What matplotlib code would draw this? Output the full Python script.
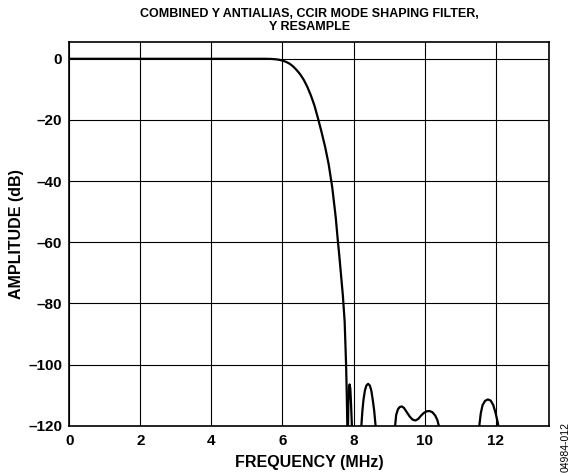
import numpy as np
import matplotlib
matplotlib.use('Agg')
import matplotlib.pyplot as plt

plt.rcParams['font.family'] = ['Liberation Sans', 'DejaVu Sans']
plt.rcParams['font.weight'] = 'bold'

# main roll-off (MHz, dB)
main_f = [0.0, 5.0, 5.5, 5.7, 5.8, 5.9, 6.0, 6.1, 6.2, 6.3, 6.4, 6.5, 6.6, 6.7,
          6.8, 6.9, 7.0, 7.1, 7.2, 7.3, 7.4, 7.5, 7.55, 7.6, 7.65, 7.7, 7.75,
          7.79, 7.81, 7.83]
main_db = [0.0, 0.0, 0.0, -0.05, -0.15, -0.3, -0.6, -1.0, -1.6, -2.5, -3.7, -5.1,
           -6.9, -9.2, -12.0, -15.3, -19.5, -24.0, -28.8, -34.5, -42.0, -52.0,
           -58.5, -64.5, -71.0, -77.5, -86.0, -100.0, -110.0, -124.0]

# stopband lobes
spike_f = [7.84, 7.855, 7.87, 7.89, 7.91, 7.93, 7.95, 7.97]
spike_db = [-124.0, -112.0, -107.5, -106.5, -108.0, -113.0, -119.0, -125.0]

lobe2_f = [8.20, 8.22, 8.25, 8.28, 8.32, 8.36, 8.41, 8.46, 8.50, 8.54, 8.58, 8.62, 8.64]
lobe2_db = [-125.0, -120.0, -115.0, -111.5, -108.5, -106.9, -106.3, -106.9, -108.5,
            -111.5, -115.0, -120.0, -125.0]

lobe3_f = [9.15, 9.17, 9.20, 9.25, 9.30, 9.36, 9.42, 9.50, 9.58, 9.66, 9.74, 9.82,
           9.90, 9.98, 10.06, 10.14, 10.22, 10.30, 10.36, 10.41, 10.46]
lobe3_db = [-125.0, -120.0, -116.5, -114.6, -113.9, -113.7, -114.2, -115.6, -117.0,
            -118.0, -118.3, -117.8, -116.7, -115.8, -115.3, -115.2, -115.6, -116.7,
            -118.2, -120.5, -125.0]

lobe4_f = [11.52, 11.54, 11.58, 11.63, 11.70, 11.78, 11.86, 11.93, 11.99, 12.05, 12.10, 12.13]
lobe4_db = [-125.0, -120.0, -116.0, -113.3, -111.9, -111.4, -111.8, -113.2, -115.5,
            -118.5, -121.5, -125.0]

xticks = [0, 2, 4, 6, 8, 10, 12]
yticks = [0, -20, -40, -60, -80, -100, -120]

fig = plt.figure(figsize=(5.74, 4.74), dpi=100)
ax = fig.add_axes([0.1207, 0.1019, 0.8357, 0.8089])

for f, db in [(main_f, main_db), (spike_f, spike_db), (lobe2_f, lobe2_db),
              (lobe3_f, lobe3_db), (lobe4_f, lobe4_db)]:
    ax.plot(f, db, color='black', linewidth=1.6, zorder=3,
            solid_joinstyle='round', solid_capstyle='round')

ax.set_xlim(0, 13.5)
ax.set_ylim(-120, 5.4)
ax.set_xticks(xticks)
ax.set_yticks(yticks)
ax.set_yticklabels(['0'] + ['\u2013%d' % abs(v) for v in yticks[1:]])
ax.grid(True, color='black', linewidth=0.8)
ax.tick_params(length=0, labelsize=11)
ax.tick_params(axis='x', pad=6)
ax.tick_params(axis='y', pad=5)
for s in ax.spines.values():
    s.set_linewidth(1.2)

ax.set_xlabel('FREQUENCY (MHz)', fontsize=11.5, fontweight='bold', labelpad=5)
ax.set_ylabel('AMPLITUDE (dB)', fontsize=11.5, fontweight='bold', labelpad=3)
ax.set_title('COMBINED Y ANTIALIAS, CCIR MODE SHAPING FILTER,\nY RESAMPLE',
             fontsize=9, fontweight='bold', linespacing=1.05, pad=9)

fig.text(0.986, 0.004, '04984-012', rotation=90, ha='center', va='bottom',
         fontsize=7.5, fontweight='normal')

fig.savefig('out.png', dpi=100)
